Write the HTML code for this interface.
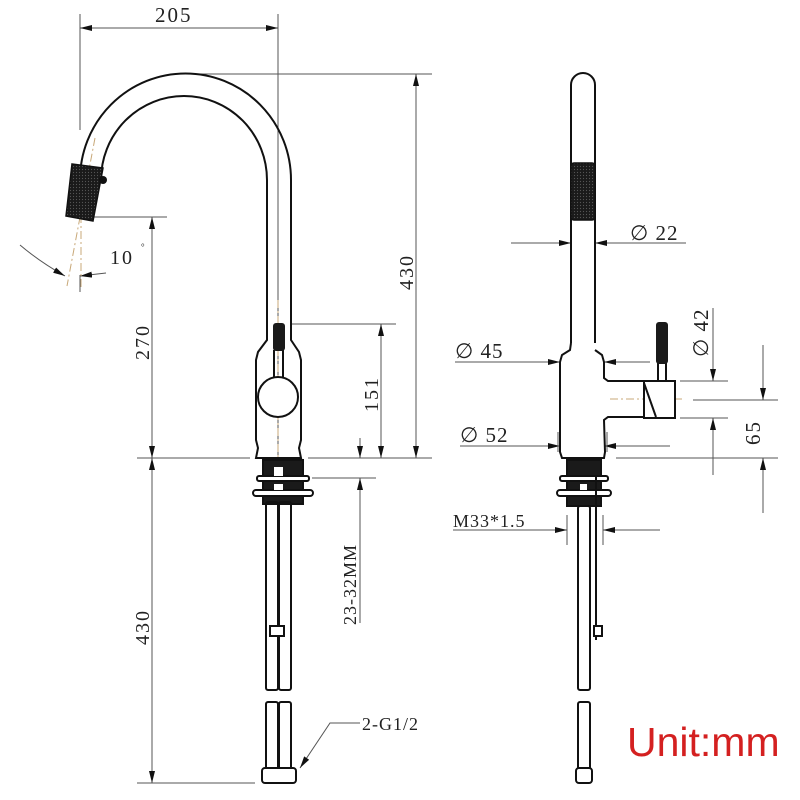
<!DOCTYPE html>
<html><head><meta charset="utf-8"><style>
html,body{margin:0;padding:0;background:#fff;}
svg{display:block;}
text{font-family:"Liberation Serif",serif;fill:#222;}
</style></head><body>
<svg width="800" height="800" viewBox="0 0 800 800" xmlns="http://www.w3.org/2000/svg">
<defs>
<marker id="a" viewBox="0 0 12 6" refX="12" refY="3" markerWidth="12" markerHeight="6" orient="auto-start-reverse" markerUnits="userSpaceOnUse"><path d="M0,0 L12,3 L0,6 z" fill="#111"/></marker>
<pattern id="dots" width="3" height="3" patternUnits="userSpaceOnUse"><rect width="3" height="3" fill="#1a1a1a"/><circle cx="1.5" cy="1.5" r="0.6" fill="#555"/></pattern>
</defs>
<rect width="800" height="800" fill="#fff"/>

<g stroke="#555" stroke-width="1" fill="none">
<line x1="80" y1="14" x2="80" y2="130"/>
<line x1="278" y1="14" x2="278" y2="458"/>
<line x1="80" y1="28" x2="278" y2="28" marker-start="url(#a)" marker-end="url(#a)"/>
<line x1="200" y1="74" x2="432" y2="74"/>
<line x1="416" y1="74" x2="416" y2="458" marker-start="url(#a)" marker-end="url(#a)"/>
<line x1="92" y1="217" x2="167" y2="217"/>
<line x1="152" y1="217" x2="152" y2="458" marker-start="url(#a)" marker-end="url(#a)"/>
<line x1="290" y1="324" x2="396" y2="324"/>
<line x1="381" y1="324" x2="381" y2="458" marker-start="url(#a)" marker-end="url(#a)"/>
<line x1="137" y1="458" x2="250" y2="458"/>
<line x1="308" y1="458" x2="432" y2="458"/>
<line x1="312" y1="478" x2="376" y2="478"/>
<line x1="360" y1="438" x2="360" y2="458" marker-end="url(#a)"/>
<line x1="360" y1="623" x2="360" y2="478" marker-end="url(#a)"/>
<line x1="152" y1="458" x2="152" y2="783" marker-start="url(#a)" marker-end="url(#a)"/>
<line x1="137" y1="783" x2="255" y2="783"/>
<line x1="80" y1="275" x2="80" y2="292"/>
<line x1="106" y1="273" x2="80" y2="276" marker-end="url(#a)"/>
<path d="M20,245 Q40,262 65,276" marker-end="url(#a)"/>
<polyline points="360,723 330,723 300,768" marker-end="url(#a)"/>
</g>
<g stroke="#c8a878" stroke-width="1" stroke-dasharray="8,3,2,3" fill="none">
<line x1="95" y1="138" x2="67" y2="286"/>
<line x1="81" y1="215" x2="81" y2="290"/>
<line x1="278" y1="300" x2="278" y2="470"/>
<line x1="610" y1="399" x2="685" y2="399"/>
</g>
<g stroke="#111" stroke-width="2" fill="none">
<path d="M80,180 A105,106 0 0 1 291,180 L291,324"/>
<path d="M101,180 A83,84 0 0 1 267,180 L267,324"/>
<path d="M267,324 L267,340 L258,352 L256,360 L256,440 L258,448 L256,458 L301,458 L299,448 L301,440 L301,360 L299,352 L291,340 L291,324"/>
<circle cx="278" cy="397" r="20" fill="#fff"/>
<line x1="274" y1="350" x2="274" y2="377"/><line x1="283" y1="350" x2="283" y2="377"/>
</g>
<rect x="273" y="323" width="12" height="28" rx="3" fill="#1a1a1a"/>
<path d="M72,164 L103,168 L93,221 L66,216 Z" fill="url(#dots)" stroke="#111" stroke-width="1.5"/>
<circle cx="103" cy="180" r="4" fill="#111"/>
<g stroke="#111" stroke-width="2" fill="none">
<rect x="263" y="460" width="40" height="44" fill="#1a1a1a"/>
<rect x="257" y="476" width="52" height="5" rx="2" fill="#fff"/>
<rect x="253" y="490" width="60" height="6" rx="3" fill="#fff"/>
<rect x="274" y="467" width="9" height="9" fill="#fff" stroke="none"/>
<rect x="274" y="484" width="9" height="6" fill="#fff" stroke="none"/>
<rect x="266" y="502" width="12" height="188" rx="2"/>
<rect x="279" y="502" width="12" height="188" rx="2"/>
<rect x="270" y="626" width="14" height="10" fill="#fff"/>
<rect x="266" y="702" width="12" height="68" rx="2"/>
<rect x="279" y="702" width="12" height="68" rx="2"/>
<rect x="262" y="768" width="34" height="15" rx="3" fill="#fff"/>
</g>
<text x="155" y="22" font-size="21" letter-spacing="2">205</text>
<text x="110" y="264" font-size="20" letter-spacing="2">10</text><text x="141" y="250" font-size="9">°</text>
<text transform="translate(149,360) rotate(-90)" font-size="20" letter-spacing="2">270</text>
<text transform="translate(378,412) rotate(-90)" font-size="20" letter-spacing="2">151</text>
<text transform="translate(413,290) rotate(-90)" font-size="20" letter-spacing="2">430</text>
<text transform="translate(149,645) rotate(-90)" font-size="20" letter-spacing="2">430</text>
<text transform="translate(356,625) rotate(-90)" font-size="18" letter-spacing="1">23-32MM</text>
<text x="362" y="730" font-size="18" letter-spacing="1">2-G1/2</text>

<g stroke="#555" stroke-width="1" fill="none">
<line x1="511" y1="243" x2="571" y2="243" marker-end="url(#a)"/>
<line x1="686" y1="243" x2="595" y2="243" marker-end="url(#a)"/>
<line x1="455" y1="362" x2="560" y2="362" marker-end="url(#a)"/>
<line x1="650" y1="362" x2="604" y2="362" marker-end="url(#a)"/>
<line x1="460" y1="446" x2="560" y2="446" marker-end="url(#a)"/>
<line x1="670" y1="446" x2="604" y2="446" marker-end="url(#a)"/>
<line x1="558" y1="432" x2="558" y2="452"/><line x1="607" y1="432" x2="607" y2="452"/>
<line x1="680" y1="381" x2="728" y2="381"/>
<line x1="680" y1="418" x2="728" y2="418"/>
<line x1="713" y1="308" x2="713" y2="381" marker-end="url(#a)"/>
<line x1="713" y1="475" x2="713" y2="418" marker-end="url(#a)"/>
<line x1="693" y1="400" x2="778" y2="400"/>
<line x1="616" y1="458" x2="778" y2="458"/>
<line x1="763" y1="345" x2="763" y2="400" marker-end="url(#a)"/>
<line x1="763" y1="513" x2="763" y2="458" marker-end="url(#a)"/>
<line x1="453" y1="530" x2="567" y2="530" marker-end="url(#a)"/>
<line x1="660" y1="530" x2="603" y2="530" marker-end="url(#a)"/>
<line x1="567" y1="515" x2="567" y2="545"/><line x1="603" y1="515" x2="603" y2="545"/>
</g>
<g stroke="#111" stroke-width="2" fill="none">
<path d="M571,343 L571,85 A12,12 0 0 1 595,85 L595,343"/>
<path d="M571,343 L570,350 L562,355 L560,362 L560,452 L562,458 L604,458 L605,452 L604,420 L608,417 L644,417 L644,381 L608,381 L604,378 L604,362 L602,355 L595,350"/>
<rect x="644" y="381" width="31" height="37" fill="#fff"/>
<path d="M644,383 L650,400 L656,417"/>
<line x1="658" y1="362" x2="658" y2="381"/><line x1="666" y1="362" x2="666" y2="381"/>
</g>
<rect x="571" y="163" width="24" height="57" rx="3" fill="url(#dots)" stroke="#111" stroke-width="1.5"/>
<rect x="656" y="322" width="12" height="42" rx="3" fill="#1a1a1a"/>
<g stroke="#111" stroke-width="2" fill="none">
<rect x="567" y="460" width="34" height="46" fill="#1a1a1a"/>
<rect x="560" y="476" width="48" height="5" rx="2" fill="#fff"/>
<rect x="557" y="490" width="54" height="6" rx="3" fill="#fff"/>
<rect x="580" y="484" width="7" height="6" fill="#fff" stroke="none"/>
<rect x="578" y="506" width="12" height="184" rx="2"/>
<line x1="596" y1="476" x2="596" y2="640"/>
<rect x="594" y="626" width="8" height="10" fill="#fff"/>
<rect x="578" y="702" width="12" height="68" rx="2"/>
<rect x="576" y="768" width="16" height="15" rx="3" fill="#fff"/>
</g>
<text x="630" y="240" font-size="21" letter-spacing="1">∅ 22</text>
<text x="455" y="358" font-size="21" letter-spacing="1">∅ 45</text>
<text x="460" y="442" font-size="21" letter-spacing="1">∅ 52</text>
<text transform="translate(708,357) rotate(-90)" font-size="21" letter-spacing="1">∅ 42</text>
<text transform="translate(760,445) rotate(-90)" font-size="21" letter-spacing="2">65</text>
<text x="453" y="527" font-size="18" letter-spacing="1">M33*1.5</text>
<text x="627" y="756" font-size="41" style="font-family:'Liberation Sans',sans-serif;fill:#d42020">Unit:mm</text>
</svg>
</body></html>
